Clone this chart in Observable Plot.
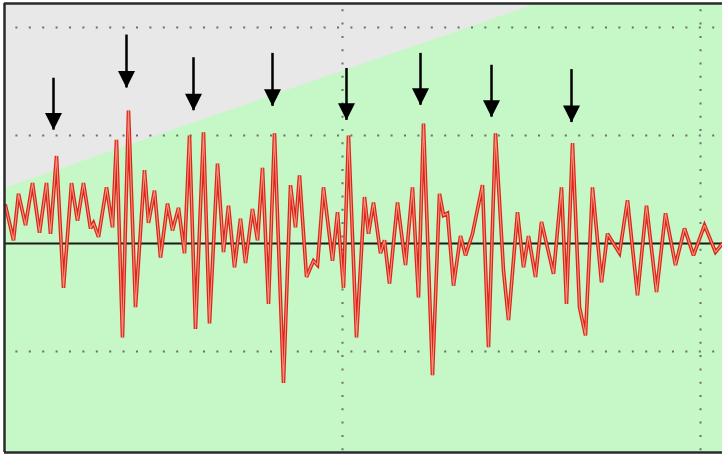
<!DOCTYPE html>
<html>
<head>
<meta charset="utf-8">
<script src="https://cdn.jsdelivr.net/npm/d3@7"></script>
<script src="https://cdn.jsdelivr.net/npm/@observablehq/plot@0.6"></script>
<style>
html, body { margin: 0; padding: 0; background: #fff; overflow: hidden; }
#chart svg { display: block; }
</style>
</head>
<body>
<div id="chart"></div>
<script>
// Signal samples (time in samples, amplitude in divisions)
const sigT = [1, 9, 14, 21, 28, 35, 42, 46, 52, 59, 67, 73, 79, 86, 89, 94, 102, 108, 112, 118,
  124, 131, 140, 144, 150, 156, 163, 168, 174, 180, 185, 191, 199, 205, 213, 219, 224, 230, 236, 241,
  248, 253, 258, 264, 270, 279, 286, 291, 295, 302, 309, 313, 319, 328, 333, 339, 344, 352, 360, 364,
  369, 376, 380, 385, 393, 401, 408, 414, 419, 428, 435, 439, 443, 449, 456, 461, 468, 478, 484, 491,
  499, 504, 513, 519, 524, 531, 537, 549, 557, 562, 568, 575, 581, 588, 597, 603, 615, 623, 633, 642,
  652, 661, 671, 680, 689, 700, 711, 718];
const sigV = [0.35, 0.03, 0.46, 0.17, 0.56, 0.10, 0.56, 0.09, 0.81, -0.41, 0.56, 0.21, 0.56, 0.14, 0.19, 0.06, 0.52, 0.15, 0.96, -0.87,
  1.23, -0.59, 0.68, 0.19, 0.49, -0.13, 0.37, 0.12, 0.33, -0.09, 1.00, -0.79, 1.03, -0.74, 0.74, -0.08, 0.35, -0.22, 0.23, -0.18,
  0.32, 0.03, 0.70, -0.56, 1.02, -1.29, 0.54, 0.15, 0.63, -0.31, -0.16, -0.20, 0.52, -0.16, 0.29, -0.41, 1.00, -0.87, 0.43, 0.09,
  0.38, -0.09, 0.03, -0.37, 0.38, -0.20, 0.52, -0.50, 1.11, -1.22, 0.46, 0.26, 0.28, -0.39, 0.07, -0.11, 0.09, 0.54, -0.96, 1.02,
  -0.25, -0.71, 0.29, -0.22, 0.07, -0.31, 0.20, -0.28, 0.52, -0.56, 0.93, -0.59, -0.85, 0.52, -0.36, 0.09, -0.09, 0.40, -0.48, 0.35,
  -0.45, 0.28, -0.20, 0.14, -0.11, 0.17, -0.08, 0.00];

// Threshold boundary (grey above, green below)
const boundT = [0, 534, 718];
const boundV = [0.51, 2.222, 2.222];

// Arrows marking peaks
const arrowT = [49, 122, 189, 268, 342, 416, 487, 567];
const arrowTop = [1.53, 1.93, 1.72, 1.76, 1.62, 1.76, 1.65, 1.61];
const arrowTip = [1.05, 1.44, 1.23, 1.27, 1.14, 1.28, 1.17, 1.12];

// Grid
const gridY = [-1, 1, 2];
const gridX = [338, 696];
const xDomain = [0, 718];
const yDomain = [-1.935, 2.222];

const signal = sigT.map((t, i) => ({t, v: sigV[i]}));
const bound = boundT.map((t, i) => ({t, v: boundV[i]}));
const arrows = arrowT.map((t, i) => ({t, top: arrowTop[i], tip: arrowTip[i]}));

const headDown = {
  draw(context) {
    context.moveTo(-8.5, -17);
    context.lineTo(8.5, -17);
    context.lineTo(0, 0);
    context.closePath();
  }
};

const chart = Plot.plot({
  width: 722,
  height: 454,
  marginLeft: 4,
  marginTop: 3,
  marginRight: 0,
  marginBottom: 2,
  x: {domain: xDomain, axis: null},
  y: {domain: yDomain, axis: null},
  marks: [
    Plot.frame({fill: "#c6f7c6", stroke: "none"}),
    Plot.areaY(bound, {x: "t", y1: "v", y2: yDomain[1], fill: "#e8e8e8"}),
    Plot.ruleY(gridY, {stroke: "#6e6e6e", strokeWidth: 2, strokeDasharray: "2 11.4", strokeDashoffset: 2}),
    Plot.ruleX(gridX, {stroke: "#6e6e6e", strokeWidth: 2, strokeDasharray: "2 11.3", strokeDashoffset: 7}),
    Plot.ruleY([0], {stroke: "#1a1a1a", strokeWidth: 2}),
    Plot.line(signal, {x: "t", y: "v", stroke: "#dd2418", strokeWidth: 3.6, strokeLinejoin: "miter", strokeMiterlimit: 3}),
    Plot.line(signal, {x: "t", y: "v", stroke: "#f49580", strokeWidth: 1.1, strokeLinejoin: "miter"}),
    Plot.ruleX(arrows, {x: "t", y1: "top", y2: "tip", stroke: "#000", strokeWidth: 2.5}),
    Plot.dot(arrows, {x: "t", y: "tip", symbol: headDown, fill: "#000", stroke: "none"}),
    Plot.ruleX([xDomain[0]], {stroke: "#2a2a2a", strokeWidth: 2.5}),
    Plot.ruleY([yDomain[0], yDomain[1]], {stroke: "#2a2a2a", strokeWidth: 2.5})
  ]
});
document.getElementById("chart").appendChild(chart);
</script>
</body>
</html>
